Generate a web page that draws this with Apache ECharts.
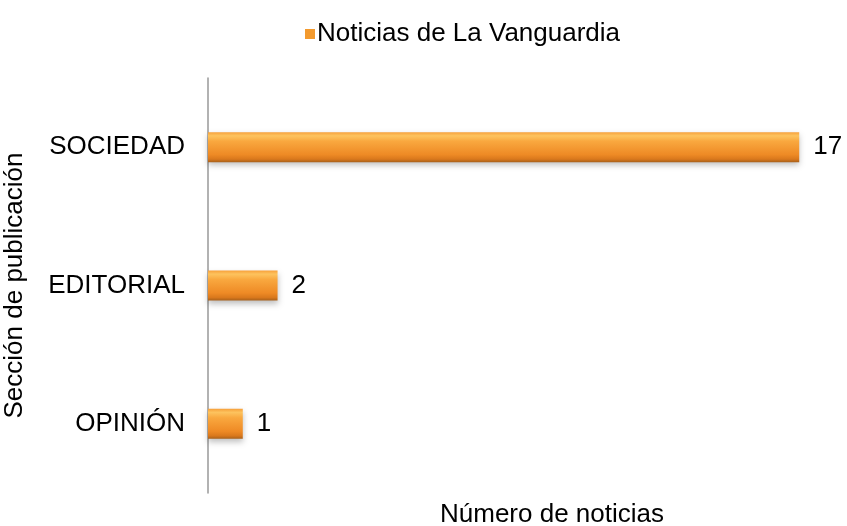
<!DOCTYPE html>
<html>
<head>
<meta charset="utf-8">
<script src="https://cdn.jsdelivr.net/npm/echarts@6/dist/echarts.min.js"></script>
<style>
  html, body { margin: 0; padding: 0; background: #fff; }
  #chart { width: 847px; height: 526px; }
</style>
</head>
<body>
<div id="chart"></div>
<script>
// Sections, bottom to top as drawn on the category axis
const categories = ['OPINIÓN', 'EDITORIAL', 'SOCIEDAD'];
const values = [1, 2, 17];
const seriesName = 'Noticias de La Vanguardia';
const xAxisTitle = 'Número de noticias';
const yAxisTitle = 'Sección de publicación';

const FONT = '"Liberation Sans", Arial, sans-serif';
const FS = 26;

// Bevelled orange fill
const barFill = new echarts.graphic.LinearGradient(0, 0, 0, 1, [
  { offset: 0, color: '#F7A03A' },
  { offset: 0.12, color: '#FDC35E' },
  { offset: 0.3, color: '#F9A83F' },
  { offset: 0.75, color: '#EE8A25' },
  { offset: 0.9, color: '#D9781C' },
  { offset: 1, color: '#A8601A' }
]);

const chart = echarts.init(document.getElementById('chart'), null, { renderer: 'canvas' });
chart.setOption({
  animation: false,
  textStyle: { fontFamily: FONT },
  legend: {
    top: 16,
    left: 300,
    itemWidth: 10,
    itemHeight: 10,
    itemGap: 4,
    textStyle: { fontSize: FS, color: '#000', fontFamily: FONT, padding: [0, 0, 0, -3] },
    data: [{ name: seriesName, icon: 'rect', itemStyle: { color: '#F39A2E' } }]
  },
  grid: {
    left: 208, top: 78, width: 626, height: 415,
    containLabel: false,
    outerBoundsMode: 'none'
  },
  xAxis: {
    type: 'value',
    min: 0,
    max: 18,
    show: true,
    axisLine: { show: false },
    axisTick: { show: false },
    axisLabel: { show: false },
    splitLine: { show: false },
    name: xAxisTitle,
    nameLocation: 'middle',
    nameGap: 9,
    nameTextStyle: { fontSize: FS, color: '#000', fontFamily: FONT, padding: [0, 0, 0, 62] }
  },
  yAxis: {
    type: 'category',
    data: categories,
    axisLine: { show: true, lineStyle: { color: '#999', width: 1.5 } },
    axisTick: { show: false },
    axisLabel: { fontSize: FS, color: '#000', margin: 23, fontFamily: FONT },
    name: yAxisTitle,
    nameLocation: 'middle',
    nameGap: 180,
    nameRotate: 90,
    nameTextStyle: { fontSize: FS, color: '#000', fontFamily: FONT }
  },
  series: [{
    name: seriesName,
    type: 'bar',
    data: values,
    barWidth: 30,
    itemStyle: {
      color: barFill,
      shadowColor: 'rgba(0,0,0,0.25)',
      shadowBlur: 6,
      shadowOffsetY: 3
    },
    label: {
      show: true,
      position: 'right',
      distance: 14,
      fontSize: FS,
      color: '#000',
      fontFamily: FONT
    }
  }]
});
</script>
</body>
</html>
